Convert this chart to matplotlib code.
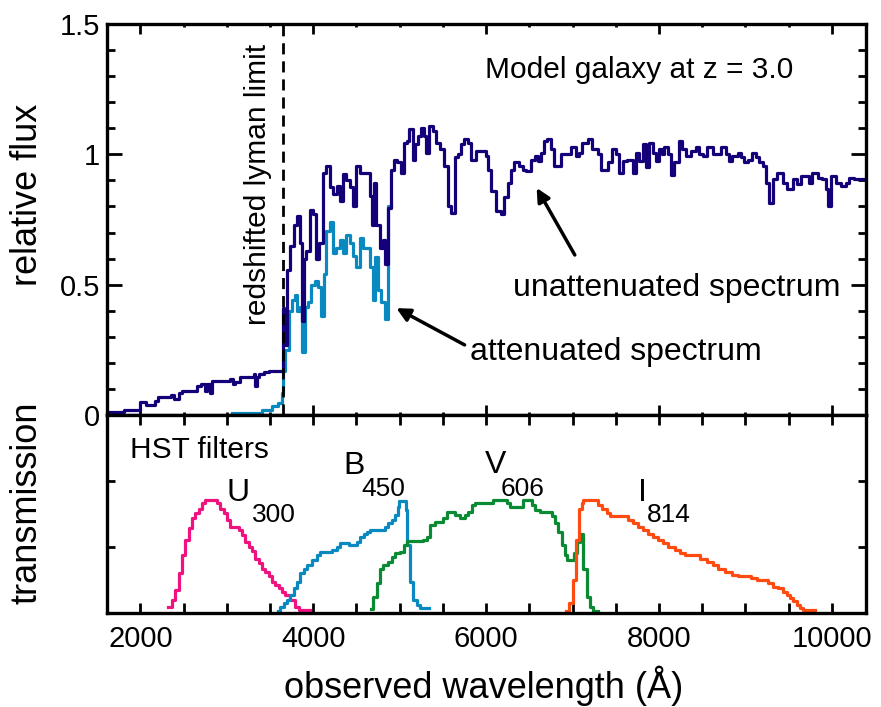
import matplotlib
matplotlib.use('Agg')
import matplotlib.pyplot as plt
from matplotlib.ticker import MultipleLocator, FuncFormatter

plt.rcParams['font.family'] = ['Liberation Sans', 'DejaVu Sans']

# model galaxy spectrum at z = 3 (step starts in Angstrom, relative flux)
wl_unatt = [1615, 1810, 2000, 2060, 2175, 2210, 2350, 2385, 2445, 2480, 2655, 2700, 2750, 2770,
            2810, 2830, 3040, 3070, 3100, 3155, 3310, 3330, 3350, 3370, 3425, 3485, 3648, 3662,
            3695, 3735, 3775, 3810, 3848, 3865, 3895, 3920, 3960, 4000, 4038, 4065, 4110, 4150,
            4190, 4230, 4270, 4305, 4345, 4385, 4425, 4460, 4500, 4540, 4580, 4620, 4655, 4685,
            4705, 4730, 4770, 4805, 4830, 4865, 4900, 4935, 4975, 5015, 5055, 5085, 5110, 5150,
            5180, 5210, 5245, 5280, 5305, 5345, 5385, 5425, 5465, 5515, 5555, 5595, 5635, 5675,
            5710, 5750, 5790, 5825, 5880, 5995, 6020, 6055, 6115, 6170, 6210, 6250, 6290, 6325,
            6385, 6425, 6460, 6520, 6560, 6595, 6635, 6675, 6710, 6750, 6790, 6865, 6980, 7040,
            7075, 7115, 7175, 7230, 7290, 7330, 7405, 7460, 7500, 7540, 7580, 7635, 7695, 7735,
            7770, 7810, 7850, 7890, 7925, 7965, 8005, 8040, 8060, 8100, 8140, 8175, 8235, 8270,
            8310, 8370, 8425, 8465, 8505, 8560, 8620, 8715, 8775, 8810, 8850, 8910, 8950, 8985,
            9025, 9080, 9120, 9160, 9200, 9235, 9275, 9315, 9370, 9430, 9485, 9545, 9600, 9640,
            9740, 9775, 9835, 9890, 9930, 9950, 9985, 10045, 10100, 10160, 10200, 10260, 10400]
flux_unatt = [0.010, 0.018, 0.050, 0.040, 0.055, 0.070, 0.075, 0.063, 0.085, 0.093, 0.110, 0.120,
              0.092, 0.120, 0.085, 0.130, 0.140, 0.118, 0.125, 0.145, 0.157, 0.112, 0.145, 0.157,
              0.166, 0.170, 0.410, 0.270, 0.555, 0.650, 0.730, 0.765, 0.660, 0.360, 0.600, 0.630,
              0.785, 0.770, 0.600, 0.660, 0.930, 0.955, 0.873, 0.848, 0.880, 0.820, 0.925, 0.900,
              0.873, 0.800, 0.955, 0.930, 0.930, 0.930, 0.840, 0.730, 0.890, 0.730, 0.640, 0.670,
              0.580, 0.796, 0.940, 0.980, 0.970, 0.930, 1.045, 1.050, 1.096, 0.980, 1.040, 1.070,
              1.100, 1.070, 1.007, 1.110, 1.090, 1.045, 1.020, 0.955, 0.800, 0.775, 0.990, 1.000,
              1.040, 1.060, 1.045, 0.980, 1.013, 0.994, 0.940, 0.860, 0.784, 0.770, 0.835, 0.892,
              0.940, 0.970, 0.956, 0.940, 0.937, 0.980, 0.994, 0.975, 1.007, 1.050, 1.060, 1.020,
              0.956, 1.000, 1.030, 0.994, 1.007, 1.045, 1.060, 1.020, 1.000, 0.940, 0.970, 1.020,
              1.000, 0.930, 0.975, 0.980, 0.930, 1.007, 0.975, 1.040, 0.950, 1.045, 1.007, 0.975,
              1.020, 1.000, 1.030, 1.000, 0.920, 0.970, 1.050, 1.020, 0.994, 1.013, 1.030, 1.000,
              0.994, 1.030, 1.000, 1.030, 1.000, 0.975, 0.994, 1.007, 0.990, 0.970, 0.980, 1.007,
              0.990, 0.970, 0.956, 0.890, 0.815, 0.905, 0.930, 0.890, 0.867, 0.905, 0.886, 0.918,
              0.890, 0.930, 0.911, 0.905, 0.867, 0.803, 0.918, 0.890, 0.877, 0.890, 0.911, 0.905,
              0.905]

# same spectrum after intergalactic absorption
wl_att = [3060, 3405, 3520, 3595, 3635, 3655, 3675, 3715, 3760, 3790, 3815, 3845, 3865, 3900,
          3940, 3980, 4018, 4055, 4095, 4130, 4150, 4190, 4230, 4268, 4305, 4345, 4385, 4422,
          4460, 4500, 4538, 4575, 4615, 4655, 4690, 4710, 4750, 4788, 4826, 4865, 4900]
flux_att = [0.006, 0.019, 0.034, 0.045, 0.084, 0.170, 0.250, 0.400, 0.440, 0.460, 0.400, 0.414,
            0.240, 0.414, 0.433, 0.497, 0.516, 0.490, 0.380, 0.540, 0.707, 0.740, 0.620, 0.640,
            0.670, 0.620, 0.690, 0.660, 0.610, 0.567, 0.680, 0.640, 0.640, 0.567, 0.440, 0.605,
            0.478, 0.433, 0.370, 0.800, 0.800]

# HST filter transmission curves
wl_u300 = [2320, 2366, 2404, 2443, 2482, 2520, 2559, 2597, 2636, 2674, 2713, 2751, 2885, 2925,
           2963, 3002, 3040, 3137, 3175, 3214, 3252, 3291, 3330, 3368, 3407, 3445, 3484, 3522,
           3561, 3600, 3638, 3676, 3730, 3790, 3830, 3965]
tr_u300 = [0.018, 0.038, 0.068, 0.120, 0.175, 0.220, 0.256, 0.286, 0.302, 0.316, 0.332, 0.342,
           0.332, 0.316, 0.302, 0.282, 0.260, 0.250, 0.236, 0.216, 0.200, 0.186, 0.164, 0.150,
           0.134, 0.124, 0.110, 0.094, 0.084, 0.074, 0.064, 0.054, 0.038, 0.018, 0.008, 0.008]

wl_b450 = [3590, 3620, 3657, 3695, 3735, 3772, 3810, 3850, 3888, 3926, 3985, 4040, 4080, 4215,
           4270, 4312, 4410, 4505, 4543, 4582, 4620, 4660, 4830, 4870, 4908, 4947, 4976, 4995,
           5070, 5090, 5120, 5160, 5198, 5237, 5340]
tr_b450 = [0.006, 0.018, 0.028, 0.038, 0.054, 0.074, 0.094, 0.120, 0.134, 0.144, 0.160, 0.175,
           0.183, 0.190, 0.200, 0.210, 0.204, 0.216, 0.230, 0.240, 0.246, 0.250, 0.260, 0.272,
           0.282, 0.296, 0.322, 0.338, 0.312, 0.206, 0.094, 0.038, 0.024, 0.014, 0.014]

wl_v606 = [4670, 4697, 4735, 4775, 4812, 4870, 4910, 4948, 5005, 5045, 5083, 5275, 5315, 5352,
           5410, 5505, 5545, 5640, 5700, 5757, 5795, 5835, 5870, 6085, 6240, 6278, 6432, 6528,
           6566, 6625, 6758, 6797, 6836, 6874, 6913, 6940, 7018, 7050, 7085, 7125, 7163, 7202,
           7240, 7300]
tr_v606 = [0.010, 0.048, 0.090, 0.134, 0.144, 0.154, 0.170, 0.180, 0.185, 0.206, 0.218, 0.220,
           0.230, 0.266, 0.276, 0.286, 0.306, 0.296, 0.286, 0.296, 0.306, 0.326, 0.332, 0.342,
           0.332, 0.322, 0.342, 0.326, 0.312, 0.306, 0.292, 0.272, 0.246, 0.206, 0.175, 0.160,
           0.180, 0.216, 0.240, 0.134, 0.048, 0.018, 0.005, 0.005]

wl_i814 = [6925, 6955, 7010, 7045, 7070, 7105, 7125, 7298, 7337, 7395, 7433, 7645, 7703, 7760,
           7818, 7876, 7934, 7992, 8050, 8107, 8184, 8242, 8300, 8473, 8550, 8627, 8685, 8762,
           8839, 8916, 9070, 9128, 9263, 9321, 9379, 9437, 9475, 9514, 9552, 9591, 9629, 9668,
           9800]
tr_i814 = [0.005, 0.028, 0.100, 0.220, 0.316, 0.332, 0.342, 0.326, 0.316, 0.302, 0.292, 0.282,
           0.272, 0.260, 0.250, 0.240, 0.230, 0.220, 0.210, 0.200, 0.190, 0.180, 0.175, 0.164,
           0.154, 0.144, 0.134, 0.124, 0.114, 0.110, 0.104, 0.100, 0.090, 0.078, 0.074, 0.064,
           0.054, 0.044, 0.034, 0.024, 0.014, 0.008, 0.008]

lyman_limit = 912 * (1 + 3.0)

fig = plt.figure(figsize=(8.81, 7.07), dpi=100)
ax = fig.add_axes([0.1215, 0.413, 0.862, 0.553])
ax2 = fig.add_axes([0.1215, 0.1334, 0.862, 0.2796], sharex=ax)

lw = 2.3
ax.step(wl_att, flux_att, where='post', color='#0a88c0', lw=lw)
ax.step(wl_unatt, flux_unatt, where='post', color='#140078', lw=lw)
ax.axvline(lyman_limit, color='k', lw=2.0, ls=(0, (4, 2.5)))

ax2.step(wl_u300, tr_u300, where='post', color='#f0127f', lw=lw)
ax2.step(wl_b450, tr_b450, where='post', color='#0a88c0', lw=lw)
ax2.step(wl_v606, tr_v606, where='post', color='#0a8a32', lw=lw)
ax2.step(wl_i814, tr_i814, where='post', color='#ff4a10', lw=lw)

ax.set_xlim(1615, 10400)
ax.set_ylim(0, 1.5)
ax2.set_ylim(0, 0.6)

for a in (ax, ax2):
    for s in a.spines.values():
        s.set_linewidth(2.4)
    a.tick_params(which='both', direction='in', top=True, right=True, width=2)

ax.xaxis.set_major_locator(MultipleLocator(500))
ax.tick_params(axis='x', which='major', length=7, labelbottom=False)
ax.yaxis.set_major_locator(MultipleLocator(0.5))
ax.yaxis.set_minor_locator(MultipleLocator(0.1))
ax.yaxis.set_major_formatter(FuncFormatter(lambda v, p: '%g' % v))
ax.tick_params(axis='y', which='major', length=11, pad=5, labelsize=21)
ax.tick_params(axis='y', which='minor', length=6)

ax2.xaxis.set_major_locator(MultipleLocator(2000))
ax2.xaxis.set_minor_locator(MultipleLocator(500))
ax2.tick_params(axis='x', which='both', length=7, pad=9, labelsize=21)
ax2.yaxis.set_major_locator(MultipleLocator(0.2))
ax2.tick_params(axis='y', which='major', length=6, labelleft=False)

fig.text(0.031, 1 - 195 / 707, 'relative flux', rotation=90, ha='center', va='center', fontsize=26)
fig.text(0.031, 1 - 503 / 707, 'transmission', rotation=90, ha='center', va='center', fontsize=26)
fig.text(484 / 881, 1 - 686 / 707, 'observed wavelength (\u00c5)', ha='center', va='center', fontsize=26)

ax.text(5983, 1.323, 'Model galaxy at z = 3.0', ha='left', va='center', fontsize=21.5)
ax.text(3362, 0.886, 'redshifted lyman limit', rotation=90, ha='center', va='center', fontsize=21.5)
ax.text(6307, 0.487, 'unattenuated spectrum', ha='left', va='center', fontsize=23)
ax.text(5809, 0.242, 'attenuated spectrum', ha='left', va='center', fontsize=23)

arrow = dict(arrowstyle='-|>', lw=2.5, color='k', mutation_scale=20, shrinkA=0, shrinkB=0)
ax.annotate('', xy=(6585, 0.871), xytext=(7026, 0.614), arrowprops=arrow)
ax.annotate('', xy=(4962, 0.41), xytext=(5751, 0.269), arrowprops=arrow)

ax2.text(1886, 0.494, 'HST filters', ha='left', va='center', fontsize=21.5)
filter_labels = [('U', '300', 3000, 0.362, 3290, 0.296),
                 ('B', '450', 4350, 0.446, 4560, 0.375),
                 ('V', '606', 5980, 0.449, 6170, 0.375),
                 ('I', '814', 7756, 0.362, 7860, 0.296)]
for name, sub, x0, y0, x1, y1 in filter_labels:
    ax2.text(x0, y0, name, ha='left', va='center', fontsize=23)
    ax2.text(x1, y1, sub, ha='left', va='center', fontsize=19)

fig.savefig('out.png', dpi=100)
